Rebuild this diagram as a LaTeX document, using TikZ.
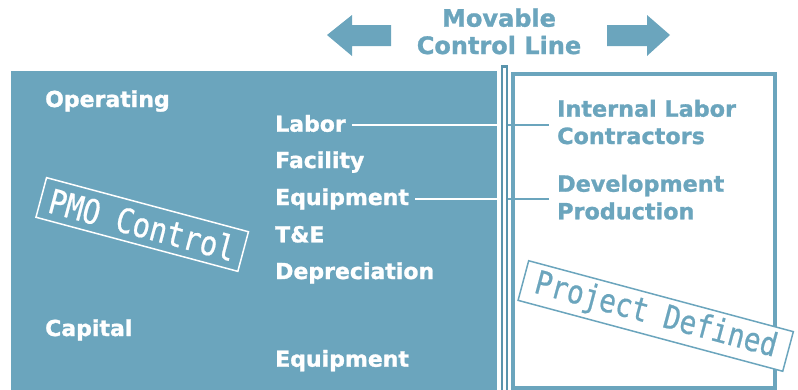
\documentclass[tikz,border=0pt]{standalone}
\usepackage{fontspec}
\setmainfont[BoldFeatures={FakeBold=1.2}]{DejaVu Sans}
\newfontfamily\monofam[FakeStretch=0.85,FakeBold=0.6]{DejaVu Sans Mono}
\definecolor{pmblue}{RGB}{107,165,189}
\definecolor{pmdark}{RGB}{90,148,172}
\begin{document}
\begin{tikzpicture}[x=1pt,y=-1pt,
  lbl/.style={anchor=base west,inner sep=0pt,font=\fontsize{22}{24}\selectfont\bfseries,text=white},
  rlbl/.style={anchor=base west,inner sep=0pt,font=\fontsize{22.3}{27}\selectfont\bfseries,text=pmblue},
  ttl/.style={anchor=base,inner sep=0pt,font=\fontsize{24}{27.5}\selectfont\bfseries,text=pmblue},
  stampbox/.style={draw,line width=1.5pt,minimum height=41pt,rotate=-15,inner sep=0pt},
  conn/.style={line width=2.4pt}]
\useasboundingbox (0,0) rectangle (798,389);
% left filled panel
\fill[pmblue] (11,71) rectangle (497,392);
% right outlined panel
\draw[pmblue,line width=4pt] (512.5,73.5) rectangle (774.5,387.5);
% movable control line
\draw[pmdark,line width=1.8pt] (501.9,65.5) -- (501.9,395) (506.6,65.5) -- (506.6,395);
\fill[pmdark] (501,65) rectangle (507.5,67.5);
% arrows
\fill[pmblue] (327,35) -- (352,15) -- (352,25) -- (391,25) -- (391,46) -- (352,46) -- (352,56) -- cycle;
\fill[pmblue] (670,35) -- (647,15) -- (647,25) -- (607,25) -- (607,46) -- (647,46) -- (647,56) -- cycle;
\node[ttl] (title1) at (499,26.7) {Movable};
\node[ttl] (title2) at (499,54) {Control Line};
% left labels
\node[lbl] (oper) at (45,107) {Operating};
\node[lbl] (labor) at (275,131.7) {Labor};
\node[lbl] (fac) at (275,168) {Facility};
\node[lbl] (equip) at (275,205) {Equipment};
\node[lbl] (te) at (275,242.3) {T\&E};
\node[lbl] (dep) at (275,279) {Depreciation};
\node[lbl] (cap) at (45,336) {Capital};
\node[lbl] (equip2) at (275,366.7) {Equipment};
% right labels
\node[rlbl] (intl) at (557,116.7) {Internal Labor};
\node[rlbl] (contr) at (557,144) {Contractors};
\node[rlbl] (dev) at (557,191.7) {Development};
\node[rlbl] (prod) at (557,219.3) {Production};
% connectors
\coordinate (labL) at (497,125);
\coordinate (labR) at (507.5,125);
\coordinate (eqL) at (497,199);
\coordinate (eqR) at (507.5,199);
\coordinate (intlend) at ([xshift=-8pt]intl.west |- labR);
\coordinate (devend) at ([xshift=-8pt]dev.west |- eqR);
\draw[conn,white] ([xshift=6pt]labor.east |- labL) -- (labL);
\draw[conn,pmblue] (labR) -- (intlend);
\draw[conn,white] ([xshift=6pt]equip.east |- eqL) -- (eqL);
\draw[conn,pmblue] (eqR) -- (devend);
% stamps
\node[stampbox,draw=white,text=white,minimum width=209pt,font=\fontsize{34}{36}\monofam] (pmo) at (142.2,224.5) {PMO Control};
\node[stampbox,draw=pmblue,text=pmblue,fill=white,minimum width=274pt,font=\fontsize{32.5}{34}\monofam] (proj) at (655.7,316) {Project Defined};
\end{tikzpicture}
\end{document}
